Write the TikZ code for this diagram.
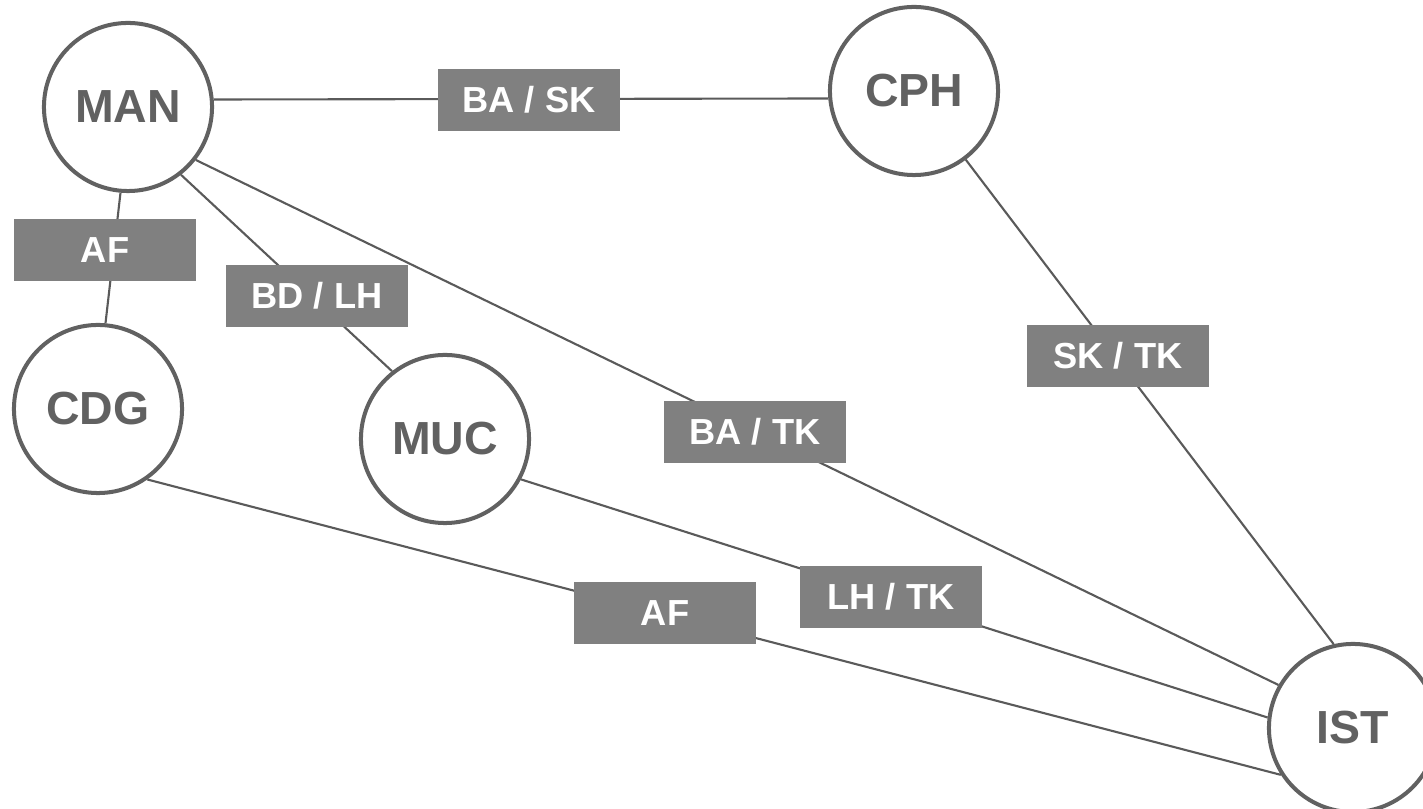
\documentclass[tikz,border=0pt]{standalone}
\usepackage{fontspec}
\setmainfont{Liberation Sans}
\definecolor{ringgray}{HTML}{616161}
\definecolor{linegray}{HTML}{5A5A5A}
\definecolor{tagfill}{HTML}{808080}

\begin{document}
\begin{tikzpicture}[x=0.01cm,y=0.01cm,
        airport/.style={circle,draw=ringgray,fill=white,line width=1.14pt,
            minimum size=1.68cm,inner sep=0pt,text=ringgray,
            font=\fontsize{13.2}{15}\selectfont\bfseries},
        carrier/.style={fill=tagfill,text=white,inner sep=0pt,
            minimum width=1.82cm,minimum height=0.61cm,
            font=\fontsize{10.3}{12}\selectfont\bfseries},
        route/.style={draw=linegray,line width=0.6pt}]
    \useasboundingbox (0,0) rectangle (1423,809);
    \clip (0,0) rectangle (1423,809);

    % airports
    \node[airport] (MAN) at (128,702) {MAN};
    \node[airport] (CPH) at (914,718) {CPH};
    \node[airport] (CDG) at (98,400) {CDG};
    \node[airport] (MUC) at (445,370) {MUC};
    \node[airport] (IST) at (1353,81) {IST};

    % routes
    \draw[route] (MAN.5) -- (CPH.185);
    \draw[route] (MAN.265) -- (CDG.85);
    \draw[route] (MAN.308) -- (MUC.128);
    \draw[route] (MAN.322) -- (IST.150);
    \draw[route] (CPH.307) -- (IST.103);
    \draw[route] (MUC.332) -- (IST.173);
    \draw[route] (CDG.305) -- (IST.213);

    % carriers on each route
    \node[carrier] (manCph) at (529,709) {BA / SK};
    \node[carrier] (manCdg) at (105,559) {AF};
    \node[carrier] (manMuc) at (317,513) {BD / LH};
    \node[carrier] (cphIst) at (1118,453) {SK / TK};
    \node[carrier] (manIst) at (755,377) {BA / TK};
    \node[carrier] (mucIst) at (891,212) {LH / TK};
    \node[carrier] (cdgIst) at (665,196) {AF};
\end{tikzpicture}
\end{document}
